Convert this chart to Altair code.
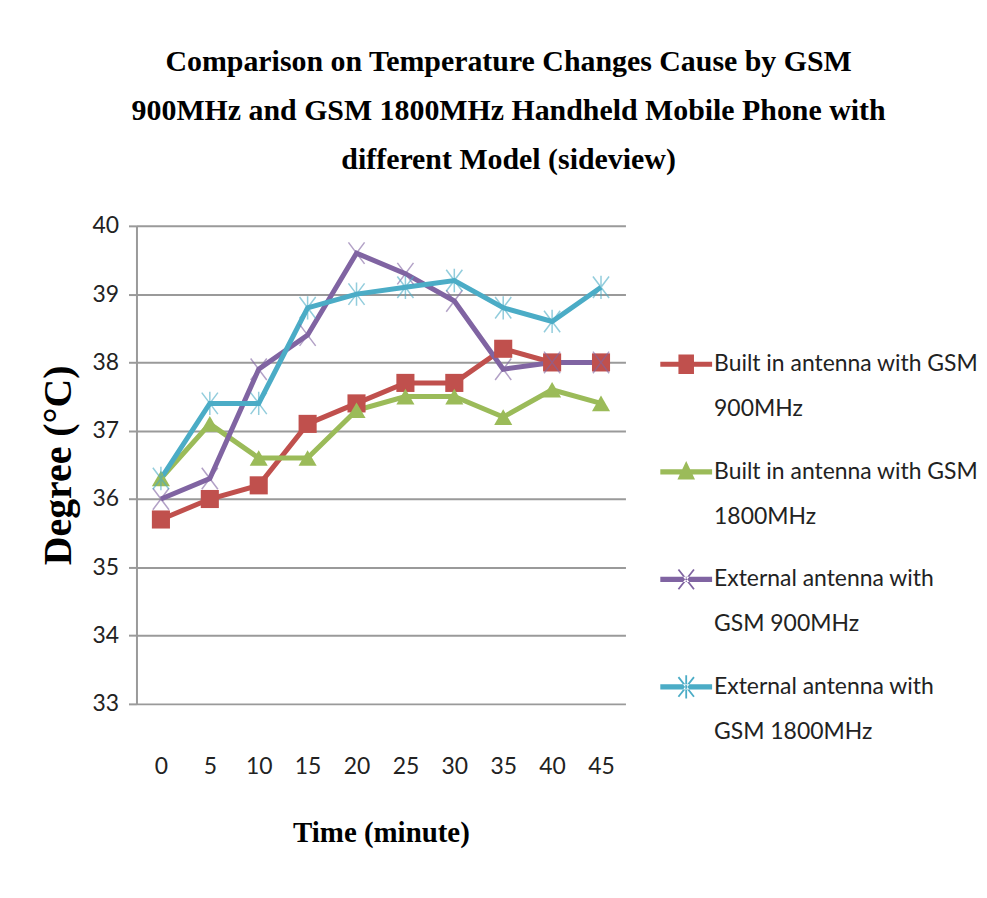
import math
import altair as alt
import pandas as pd

times = [0, 5, 10, 15, 20, 25, 30, 35, 40, 45]
series_names = [
    "Built in antenna with GSM\n900MHz",
    "Built in antenna with GSM\n1800MHz",
    "External antenna with\nGSM 900MHz",
    "External antenna with\nGSM 1800MHz",
]
built_900 = [35.7, 36.0, 36.2, 37.1, 37.4, 37.7, 37.7, 38.2, 38.0, 38.0]
built_1800 = [36.3, 37.1, 36.6, 36.6, 37.3, 37.5, 37.5, 37.2, 37.6, 37.4]
ext_900 = [36.0, 36.3, 37.9, 38.4, 39.6, 39.3, 38.9, 37.9, 38.0, 38.0]
ext_1800 = [36.3, 37.4, 37.4, 38.8, 39.0, 39.1, 39.2, 38.8, 38.6, 39.1]
y_ticks = [33, 34, 35, 36, 37, 38, 39, 40]

colors = ["#C0504D", "#9BBB59", "#8064A2", "#4BACC6"]

rows = []
for name, vals in zip(series_names, [built_900, built_1800, ext_900, ext_1800]):
    for t, v in zip(times, vals):
        rows.append({"time": t, "temp": v, "series": name})
df = pd.DataFrame(rows)

SERIF = "Liberation Serif"
SANS = "Lato"

x_enc = alt.X("time:O", scale=alt.Scale(type="point", padding=0.5),
              axis=alt.Axis(title="Time (minute)", labelAngle=0, domain=False,
                            ticks=False, tickSize=0, labelPadding=52,
                            titlePadding=40, grid=False))
y_enc = alt.Y("temp:Q", scale=alt.Scale(domain=[33, 40], nice=False, zero=False),
              axis=alt.Axis(title="Degree (°C)", values=y_ticks, tickSize=8,
                            labelPadding=10, titlePadding=14, grid=True,
                            titleFontSize=40))


# ---- legend symbol paths (line + marker), all filled shapes ----
def f(v):
    return f"{v:.3f}"


def rect(x0, y0, x1, y1):
    return f"M{f(x0)},{f(y0)}H{f(x1)}V{f(y1)}H{f(x0)}Z"


def thick(x1, y1, x2, y2, w):
    dx, dy = x2 - x1, y2 - y1
    L = math.hypot(dx, dy)
    nx, ny = -dy / L * w / 2, dx / L * w / 2
    pts = [(x1 + nx, y1 + ny), (x2 + nx, y2 + ny), (x2 - nx, y2 - ny), (x1 - nx, y1 - ny)]
    return "M" + "L".join(f"{f(px)},{f(py)}" for px, py in pts) + "Z"


bar = rect(-1, -0.1, 1, 0.1)
leg_sq = bar + rect(-0.3, -0.38, 0.3, 0.38)
leg_tri = bar + "M0,-0.42L0.34,0.3L-0.34,0.3Z"
xs = thick(-0.3, -0.38, 0.3, 0.38, 0.07) + thick(-0.3, 0.38, 0.3, -0.38, 0.07)
leg_x = bar + xs
leg_ast = bar + xs + thick(0, -0.45, 0, 0.45, 0.07)

legend = alt.Legend(
    title=None, orient="none", legendX=526, legendY=113,
    labelExpr="split(datum.label, '\\n')",
    labelFont=SANS, labelFontSize=23, labelColor="#222222", labelLimit=400,
    labelOffset=2, symbolSize=2704, symbolStrokeWidth=0, symbolOpacity=1,
    rowPadding=25, padding=0,
)

color_scale = alt.Scale(domain=series_names, range=colors)
legend_shape_scale = alt.Scale(domain=series_names, range=[leg_sq, leg_tri, leg_x, leg_ast])

legend_carrier = alt.Chart(df).transform_filter("false").mark_point(
    filled=True, opacity=1).encode(
    x=x_enc, y=y_enc,
    color=alt.Color("series:N", scale=color_scale, legend=legend),
    shape=alt.Shape("series:N", scale=legend_shape_scale, legend=legend))

color_enc = alt.Color("series:N", scale=color_scale, legend=legend)

lines = alt.Chart(df).mark_line(strokeWidth=5).encode(
    x=x_enc, y=y_enc, color=color_enc, order="time:O")

X_PATH = "M-0.9,-1.2L0.9,1.2M-0.9,1.2L0.9,-1.2"
marker_specs = [
    (series_names[0], dict(shape="square", filled=True, size=330, opacity=1)),
    (series_names[1], dict(shape="triangle-up", filled=True, size=330, opacity=1)),
    (series_names[2], dict(shape=X_PATH, filled=False, size=324,
                           strokeWidth=1.5, opacity=0.6)),
    (series_names[3], dict(shape=X_PATH + "M0,-1.3V1.3", filled=False,
                           size=324, strokeWidth=1.5, opacity=0.6)),
]
marker_layers = []
for name, kw in marker_specs:
    marker_layers.append(
        alt.Chart(df).transform_filter(alt.FieldEqualPredicate(field="series", equal=name))
        .mark_point(**kw).encode(x=x_enc, y=y_enc, color=color_enc))

chart = alt.layer(legend_carrier, lines, *marker_layers).properties(
    width=491, height=480,
    padding={"left": 30, "top": 38, "right": 0, "bottom": 5},
    title=alt.TitleParams(
        text=["Comparison on Temperature Changes Cause by GSM",
              "900MHz and GSM  1800MHz Handheld Mobile Phone with",
              "different Model (sideview)"],
        font=SERIF, fontSize=30, fontWeight="bold", lineHeight=49,
        color="#000000", anchor="middle", frame="bounds", offset=40),
).configure(
    style={"guide-label": {"lineHeight": 45}}
).configure_view(stroke=None).configure_axis(
    labelFont=SANS, labelFontSize=23, labelColor="#222222",
    titleFont=SERIF, titleFontSize=29, titleFontWeight="bold", titleColor="#000000",
    gridColor="#9A9A9A", gridWidth=2, domainColor="#9A9A9A", domainWidth=2,
    tickColor="#9A9A9A", tickWidth=2,
)

chart.save("out.html", embed_options={"renderer": "svg", "actions": False})
